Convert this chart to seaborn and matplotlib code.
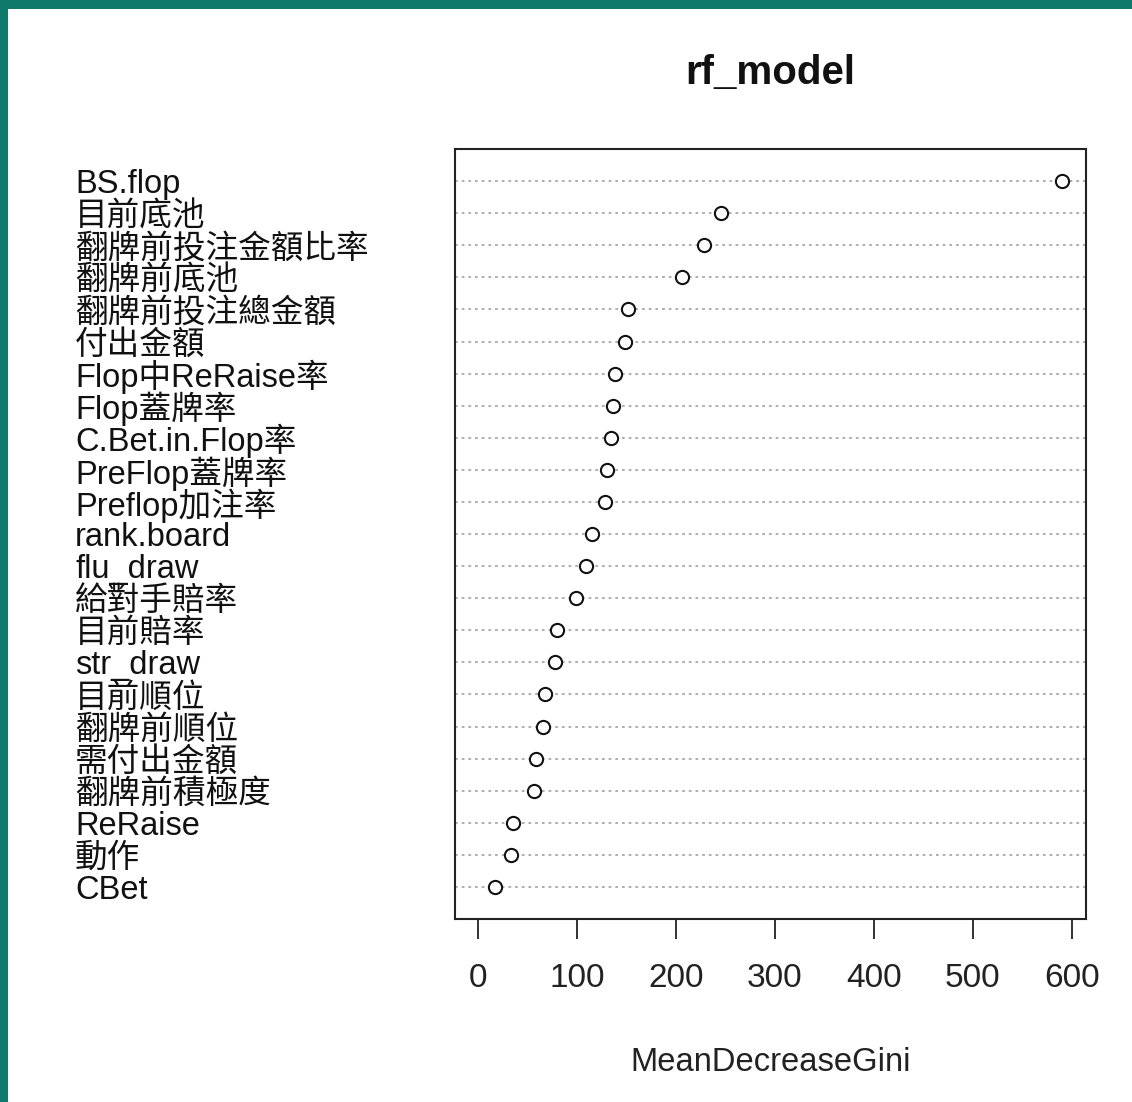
import matplotlib
matplotlib.use("Agg")
import matplotlib.pyplot as plt
from matplotlib.patches import Rectangle
import seaborn as sns
import pandas as pd

features = ["BS.flop", "目前底池", "翻牌前投注金額比率", "翻牌前底池", "翻牌前投注總金額",
            "付出金額", "Flop中ReRaise率", "Flop蓋牌率", "C.Bet.in.Flop率", "PreFlop蓋牌率",
            "Preflop加注率", "rank.board", "flu_draw", "給對手賠率", "目前賠率", "str_draw",
            "目前順位", "翻牌前順位", "需付出金額", "翻牌前積極度", "ReRaise", "動作", "CBet"]
gini = [590.6, 245.0, 228.5, 205.5, 151.0, 148.8, 138.3, 136.2, 134.1, 130.0,
        127.8, 115.2, 109.0, 98.5, 79.6, 77.5, 67.0, 65.3, 58.6, 56.5, 35.5, 33.4, 17.1]
xticks = [0, 100, 200, 300, 400, 500, 600]
title = "rf_model"
xlabel = "MeanDecreaseGini"

sns.set_theme(style="white")
plt.rcParams["font.family"] = ["Liberation Sans", "Noto Sans CJK TC", "DejaVu Sans"]

W, H = 1132, 1102
fig = plt.figure(figsize=(W / 100, H / 100), dpi=100, facecolor="white")
teal = "#0f7a6b"
fig.add_artist(Rectangle((0, 1 - 9 / H), 1, 9 / H, transform=fig.transFigure,
                         facecolor=teal, edgecolor="none", zorder=-5))
fig.add_artist(Rectangle((0, 0), 8 / W, 1, transform=fig.transFigure,
                         facecolor=teal, edgecolor="none", zorder=-5))

ax = fig.add_axes([455 / W, 1 - 919 / H, (1086 - 455) / W, (919 - 149) / H])

df = pd.DataFrame({"feature": features, "MeanDecreaseGini": gini})
sns.stripplot(data=df, x="MeanDecreaseGini", y="feature", order=features, jitter=False,
              marker="o", s=9.5, facecolor="white", edgecolor="#111111", linewidth=1.5,
              ax=ax, zorder=3)

n = len(features)
ax.set_ylim(n, -1)
ax.set_xlim(-23.6, 614.6)
ax.set_xticks(xticks)
ax.set_xticklabels([str(t) for t in xticks])

ax.yaxis.grid(True, linestyle=(0, (1.5, 2.2)), color="#a8a8a8", linewidth=1.3)
ax.xaxis.grid(False)
ax.set_axisbelow(True)

for sp in ax.spines.values():
    sp.set_visible(True)
    sp.set_color("#222222")
    sp.set_linewidth(1.5)

ax.tick_params(axis="y", length=0, pad=(455 - 75) * 0.72, labelsize=23.5, labelcolor="#111111")
for lbl in ax.get_yticklabels():
    lbl.set_horizontalalignment("left")
ax.tick_params(axis="x", direction="out", length=14.5, width=1.3, color="#222222",
               bottom=True, pad=17, labelsize=24, labelcolor="#222222")

ax.set_ylabel("")
ax.set_xlabel(xlabel, fontsize=23.6, color="#222222", labelpad=38)
ax.set_title(title, fontsize=29, fontweight="bold", pad=47, color="#111111")

fig.savefig("out.png", dpi=100, facecolor="white")
